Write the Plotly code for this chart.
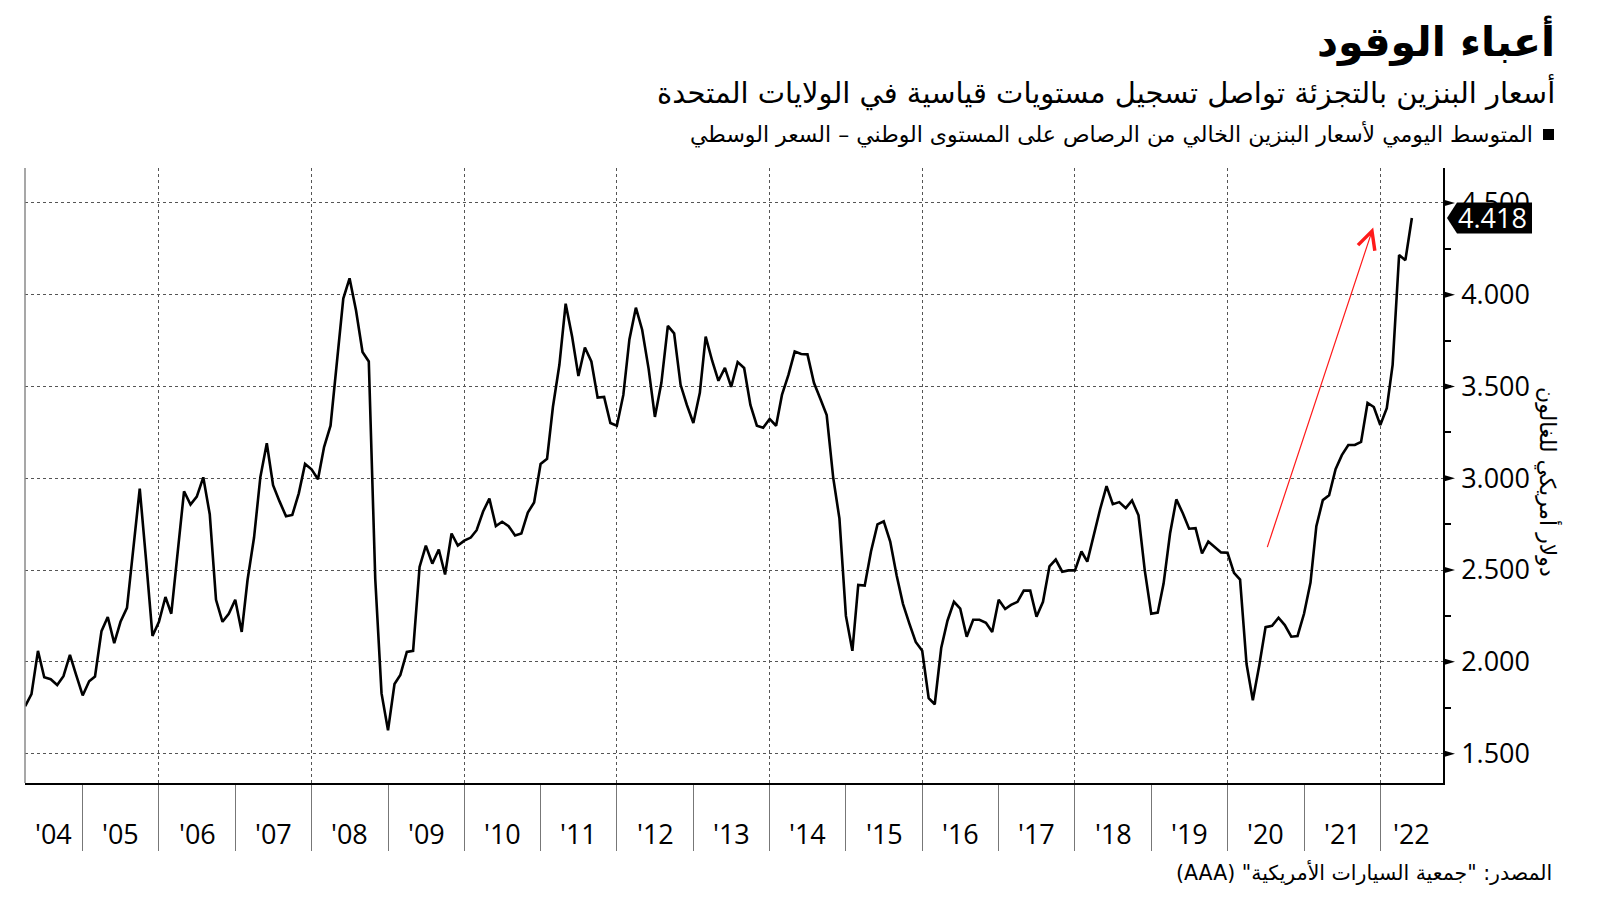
import pandas as pd
import plotly.graph_objects as go

# ---------------- data (monthly, national average unleaded gasoline, USD) ----------------
start_month = "2004-04-01"
p2004 = [1.758, 1.824, 2.060, 1.916, 1.905, 1.874, 1.922, 2.038, 1.927]
p2005 = [1.817, 1.894, 1.920, 2.167, 2.244, 2.102, 2.218, 2.294, 2.630, 2.944, 2.546, 2.141]
p2006 = [2.218, 2.353, 2.262, 2.590, 2.929, 2.857, 2.900, 3.005, 2.804, 2.338, 2.218, 2.262]
p2007 = [2.338, 2.163, 2.447, 2.677, 3.005, 3.191, 2.962, 2.874, 2.793, 2.800, 2.918, 3.078]
p2008 = [3.049, 2.995, 3.170, 3.286, 3.629, 3.979, 4.089, 3.914, 3.688, 3.636, 2.450, 1.828]
p2009 = [1.627, 1.879, 1.929, 2.054, 2.060, 2.517, 2.633, 2.535, 2.612, 2.476, 2.699, 2.633]
p2010 = [2.660, 2.677, 2.717, 2.819, 2.889, 2.739, 2.763, 2.739, 2.688, 2.699, 2.813, 2.868]
p2011 = [3.078, 3.106, 3.388, 3.618, 3.951, 3.771, 3.557, 3.712, 3.636, 3.439, 3.443, 3.301]
p2012 = [3.286, 3.454, 3.756, 3.929, 3.809, 3.596, 3.334, 3.520, 3.830, 3.789, 3.509, 3.399]
p2013 = [3.301, 3.465, 3.771, 3.640, 3.531, 3.601, 3.498, 3.633, 3.601, 3.399, 3.286, 3.275]
p2014 = [3.323, 3.286, 3.454, 3.563, 3.690, 3.677, 3.675, 3.520, 3.432, 3.344, 3.005, 2.780]
p2015 = [2.250, 2.060, 2.419, 2.415, 2.601, 2.749, 2.765, 2.655, 2.469, 2.316, 2.207, 2.108]
p2016 = [2.060, 1.802, 1.769, 2.075, 2.224, 2.327, 2.290, 2.137, 2.229, 2.229, 2.213, 2.163]
p2017 = [2.338, 2.288, 2.310, 2.327, 2.388, 2.388, 2.246, 2.327, 2.520, 2.557, 2.491, 2.498]
p2018 = [2.498, 2.601, 2.546, 2.699, 2.830, 2.957, 2.859, 2.870, 2.837, 2.879, 2.798, 2.498]
p2019 = [2.262, 2.268, 2.426, 2.699, 2.885, 2.809, 2.725, 2.728, 2.590, 2.655, 2.623, 2.596]
p2020 = [2.594, 2.485, 2.448, 1.988, 1.791, 1.981, 2.189, 2.196, 2.240, 2.200, 2.137, 2.141]
p2021 = [2.262, 2.432, 2.739, 2.881, 2.907, 3.049, 3.126, 3.181, 3.181, 3.198, 3.410, 3.388]
p2022 = [3.290, 3.382, 3.618, 4.216, 4.188, 4.418]

years = list(range(2004, 2023))
year_labels = ["'04", "'05", "'06", "'07", "'08", "'09", "'10", "'11", "'12", "'13",
               "'14", "'15", "'16", "'17", "'18", "'19", "'20", "'21", "'22"]
y_ticks = [1.5, 2.0, 2.5, 3.0, 3.5, 4.0, 4.5]

title = "أعباء الوقود"
subtitle = "أسعار البنزين بالتجزئة تواصل تسجيل مستويات قياسية في الولايات المتحدة"
legend_text = "المتوسط اليومي لأسعار البنزين الخالي من الرصاص على المستوى الوطني – السعر الوسطي"
y_title = "دولار أمريكي للغالون"
source = "المصدر: \"جمعية السيارات الأمريكية\" (AAA)"

arrow_tail = ("2020-07-07", 2.617)
arrow_tip = ("2021-11-28", 4.366)

# ---------------- assemble ----------------
prices = [v for yr in [p2004, p2005, p2006, p2007, p2008, p2009, p2010, p2011, p2012, p2013,
                       p2014, p2015, p2016, p2017, p2018, p2019, p2020, p2021, p2022] for v in yr]
dates = pd.date_range(start_month, periods=len(prices), freq="MS")

X0, X1 = pd.Timestamp("2004-03-31"), pd.Timestamp("2022-10-28")
Y0, Y1 = 1.34, 4.69

W, H = 1600, 901
PL, PR, PT, PB = 25, 1443, 168, 783


def xp(px):
    return (px - PL) / (PR - PL)


def yp(py):
    return (PB - py) / (PB - PT)


def rtl(s):
    # right-to-left embedding so punctuation is placed correctly
    return "\u202b" + s + "\u202c"


ypx = (Y1 - Y0) / (PB - PT)  # data units per pixel

ARFONT = "DejaVu Sans"
NUMFONT = "Open Sans"

fig = go.Figure()
fig.add_trace(go.Scatter(x=dates, y=prices, mode="lines",
                         line=dict(color="black", width=2.6), hoverinfo="skip",
                         showlegend=False))

shapes = []
# left thin gray frame line
shapes.append(dict(type="line", xref="paper", yref="paper", x0=0, x1=0, y0=0, y1=1,
                   line=dict(color="#8a8a8a", width=1.5)))
# major tick triangles on right axis
for v in y_ticks:
    h = 3.5 * ypx
    shapes.append(dict(type="path", xref="paper", yref="y",
                       path=f"M {xp(1443)},{v - h} L {xp(1455)},{v} L {xp(1443)},{v + h} Z",
                       fillcolor="black", line=dict(width=0), layer="above"))
# last value box
c = prices[-1]
h = 15.5 * ypx
shapes.append(dict(type="path", xref="paper", yref="y",
                   path=(f"M {xp(1447)},{c} L {xp(1457)},{c + h} L {xp(1532)},{c + h} "
                         f"L {xp(1532)},{c - h} L {xp(1457)},{c - h} Z"),
                   fillcolor="black", line=dict(width=0), layer="above"))
# legend square
shapes.append(dict(type="rect", xref="paper", yref="paper",
                   x0=xp(1543), x1=xp(1554), y0=yp(140), y1=yp(129),
                   fillcolor="black", line=dict(width=0)))

annotations = []
annotations.append(dict(xref="paper", yref="y", x=xp(1492), y=c, text=f"{c:.3f}",
                        showarrow=False, xanchor="center", yanchor="middle",
                        font=dict(family=NUMFONT, size=27, color="white")))
# year labels centred in visible part of each year
for yr, lab in zip(years, year_labels):
    lo = max(pd.Timestamp(f"{yr}-01-01"), X0)
    hi = min(pd.Timestamp(f"{yr + 1}-01-01"), X1)
    mid = lo + (hi - lo) / 2
    annotations.append(dict(xref="x", yref="paper", x=mid, y=yp(833), text=lab,
                            showarrow=False, xanchor="center", yanchor="middle",
                            font=dict(family=NUMFONT, size=27, color="black")))
# titles
annotations.append(dict(xref="paper", yref="paper", x=xp(1557), y=yp(41),
                        text="<b>" + rtl(title) + "</b>",
                        showarrow=False, xanchor="right", yanchor="middle",
                        font=dict(family=ARFONT, size=41, color="black")))
annotations.append(dict(xref="paper", yref="paper", x=xp(1557), y=yp(92), text=rtl(subtitle),
                        showarrow=False, xanchor="right", yanchor="middle",
                        font=dict(family=ARFONT, size=29, color="black")))
annotations.append(dict(xref="paper", yref="paper", x=xp(1535), y=yp(134), text=rtl(legend_text),
                        showarrow=False, xanchor="right", yanchor="middle",
                        font=dict(family=ARFONT, size=22, color="black")))
annotations.append(dict(xref="paper", yref="paper", x=xp(1554), y=yp(872), text=rtl(source),
                        showarrow=False, xanchor="right", yanchor="middle",
                        font=dict(family=ARFONT, size=20.5, color="black")))
annotations.append(dict(xref="paper", yref="paper", x=xp(1548), y=yp(482), text=rtl(y_title),
                        showarrow=False, xanchor="center", yanchor="middle", textangle=90,
                        font=dict(family=ARFONT, size=22, color="black")))
# red arrow
annotations.append(dict(xref="x", yref="y", axref="x", ayref="y",
                        x=arrow_tip[0], y=arrow_tip[1], ax=arrow_tail[0], ay=arrow_tail[1],
                        text="", showarrow=True, arrowhead=5, arrowsize=2.9, arrowwidth=1.2,
                        arrowcolor="#ff1a1a"))

fig.update_layout(
    width=W, height=H,
    margin=dict(l=PL, r=W - PR, t=PT, b=H - PB, pad=0),
    paper_bgcolor="white", plot_bgcolor="white",
    shapes=shapes, annotations=annotations,
    showlegend=False,
    xaxis=dict(type="date", range=[X0, X1], showticklabels=False,
               tick0="2006-01-01", dtick="M24",
               ticks="outside", ticklen=66, tickcolor="#777", tickwidth=1,
               showgrid=True, gridcolor="#555", griddash="dot", gridwidth=1,
               minor=dict(tick0="2005-01-01", dtick="M12", ticks="outside", ticklen=66,
                          tickcolor="#777", tickwidth=1, showgrid=False),
               showline=True, linecolor="black", linewidth=1.5, zeroline=False),
    yaxis=dict(side="right", range=[Y0, Y1], tickvals=y_ticks, tickformat=".3f",
               ticks="outside", ticklen=11, tickcolor="rgba(0,0,0,0)",
               tickfont=dict(family=NUMFONT, size=27, color="black"),
               showgrid=True, gridcolor="#555", griddash="dot", gridwidth=1,
               minor=dict(tick0=1.25, dtick=0.25, ticks="outside", ticklen=6,
                          tickcolor="black", tickwidth=1.5, showgrid=False),
               showline=True, linecolor="black", linewidth=1.5, zeroline=False),
)

fig.write_html("out.html")
